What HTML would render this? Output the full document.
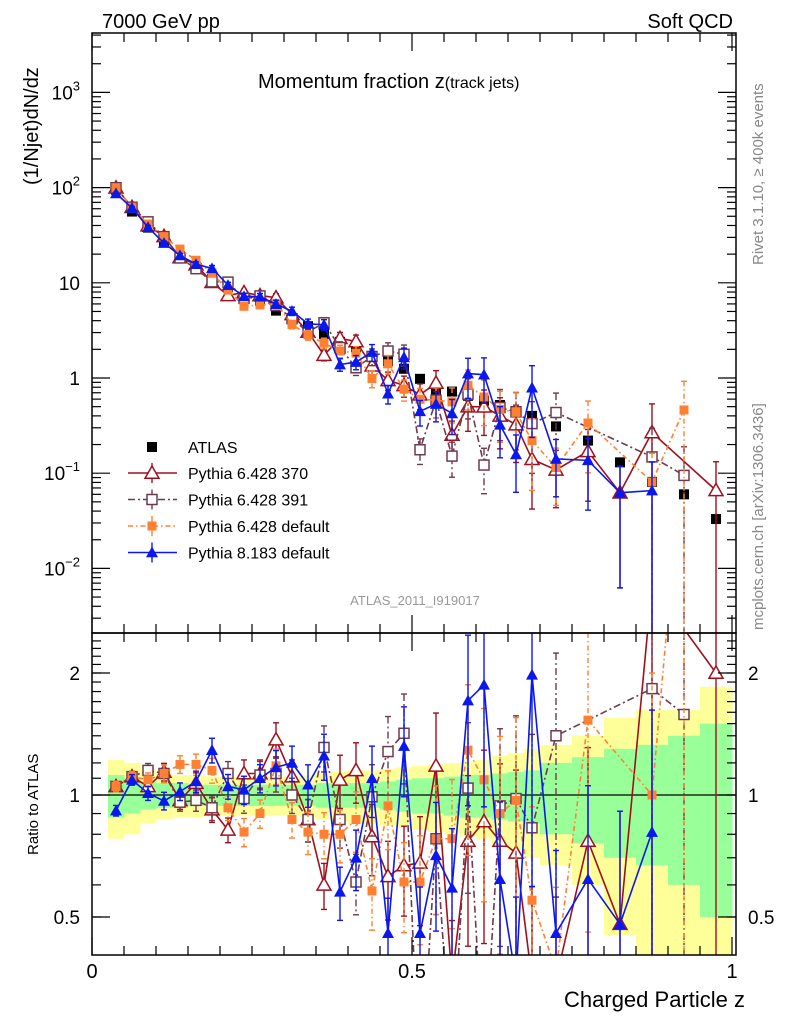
<!DOCTYPE html>
<html><head><meta charset="utf-8">
<style>
html,body{margin:0;padding:0;background:#fff;width:786px;height:1024px;overflow:hidden;}
svg{display:block;position:absolute;left:0;top:0;font-family:"Liberation Sans",Arial,sans-serif;}
</style></head>
<body>
<svg id="chart" width="786" height="1024" viewBox="0 0 786 1024" xmlns="http://www.w3.org/2000/svg">
  <defs>
    <clipPath id="clipTop"><rect x="92" y="33" width="644" height="600"/></clipPath>
    <clipPath id="clipBot"><rect x="92" y="633" width="644" height="322"/></clipPath>
  </defs>
  <g id="bandLayer" clip-path="url(#clipBot)"></g>
  <line x1="92" y1="795" x2="736" y2="795" stroke="#000" stroke-width="1.3"/>
  <g id="topLayer" clip-path="url(#clipTop)"></g>
  <g id="botLayer" clip-path="url(#clipBot)"></g>
  <g id="axesLayer"></g>
  <rect x="92" y="33" width="644" height="600" fill="none" stroke="#000" stroke-width="1.5"/>
  <rect x="92" y="633" width="644" height="322" fill="none" stroke="#000" stroke-width="1.5"/>

  <text x="102" y="28" font-size="20">7000 GeV pp</text>
  <text x="733" y="28" font-size="20" text-anchor="end">Soft QCD</text>
  <text x="258" y="88" font-size="20">Momentum fraction <tspan font-size="20">z</tspan><tspan font-size="16">(track jets)</tspan></text>
  <text transform="translate(38,185) rotate(-90)" font-size="20">(1/Njet)dN/dz</text>
  <text transform="translate(38,855) rotate(-90)" font-size="15">Ratio to ATLAS</text>
  <text x="745" y="1007" font-size="22" text-anchor="end">Charged Particle z</text>
  <text transform="translate(763,265) rotate(-90)" font-size="15" fill="#888">Rivet 3.1.10, ≥ 400k events</text>
  <text transform="translate(763,630) rotate(-90)" font-size="15" fill="#888">mcplots.cern.ch [arXiv:1306.3436]</text>
  <text x="415" y="605" font-size="13" fill="#999" text-anchor="middle">ATLAS_2011_I919017</text>
  <g id="legend"></g>
</svg>
<script>
// ---- data ----
const binLow  = [0.025,0.05,0.075,0.1,0.125,0.15,0.175,0.2,0.225,0.25,0.275,0.3,0.325,0.35,0.375,0.4,0.425,0.45,0.475,0.5,0.525,0.55,0.575,0.6,0.625,0.65,0.675,0.7,0.75,0.8,0.85,0.9,0.95];
const binHigh = [0.05,0.075,0.1,0.125,0.15,0.175,0.2,0.225,0.25,0.275,0.3,0.325,0.35,0.375,0.4,0.425,0.45,0.475,0.5,0.525,0.55,0.575,0.6,0.625,0.65,0.675,0.7,0.75,0.8,0.85,0.9,0.95,1.0];
const atlasValues = [95,56,38,27,19,14.5,11,9,7,6.5,5.1,4.2,3.5,2.9,2.4,2.1,1.7,1.5,1.25,0.98,0.75,0.72,0.65,0.58,0.52,0.45,0.40,0.31,0.22,0.13,0.081,0.06,0.033];
const atlasStatErr  = [0.12,0.10,0.08,0.07,0.07,0.06,0.06,0.06,0.06,0.06,0.06,0.06,0.06,0.07,0.07,0.07,0.07,0.08,0.09,0.10,0.10,0.11,0.12,0.12,0.13,0.14,0.15,0.20,0.24,0.30,0.33,0.40,0.50];
const atlasTotalErr = [0.22,0.20,0.15,0.13,0.12,0.12,0.11,0.11,0.11,0.11,0.11,0.11,0.12,0.13,0.14,0.15,0.15,0.16,0.17,0.18,0.19,0.20,0.21,0.22,0.25,0.27,0.30,0.33,0.40,0.55,0.62,0.62,0.85];
const ratio370 = [1.05,1.11,1.05,1.14,0.97,1.07,0.92,0.82,1.13,1.13,1.37,1.11,0.87,0.60,1.09,1.15,0.79,0.63,0.67,0.68,1.18,0.35,0.77,0.86,0.77,0.72,0.35,0.35,0.77,0.48,3.3,null,2.0];
const ratio391 = [1.05,1.11,1.15,1.13,0.96,0.97,0.93,1.13,0.98,1.12,1.13,1.00,0.87,1.31,0.87,0.61,0.99,1.28,1.42,0.18,0.78,0.21,1.04,0.21,0.94,0.98,0.83,1.40,null,null,1.83,1.58,null];
const ratioDef6 = [1.05,1.11,1.09,1.13,1.19,1.19,1.15,0.93,0.81,0.90,1.18,0.87,0.81,0.80,0.80,0.87,0.58,0.94,0.61,0.61,0.78,0.78,1.29,1.09,0.90,0.97,0.55,0.37,1.53,null,1.0,7.7,null];
const ratioPy8 = [0.915,1.09,1.01,0.967,1.02,1.08,1.29,1.05,1.03,1.10,1.17,1.20,1.06,1.25,0.577,0.70,1.10,0.456,1.32,0.456,0.71,0.59,1.71,1.87,0.62,0.35,1.98,0.456,0.62,0.48,0.81,null,null];
const mcRelErr = [0.03,0.03,0.04,0.05,0.05,0.06,0.07,0.07,0.08,0.08,0.10,0.10,0.12,0.13,0.15,0.17,0.20,0.22,0.25,0.30,0.35,0.40,0.45,0.50,0.55,0.60,0.70,0.60,0.70,0.90,1.0,1.0,1.0];
const topTickLabels = [["10","3"],["10","2"],["10",""],["1",""],["10","\u22121"],["10","\u22122"]];
const topTickValues = [1000,100,10,1,0.1,0.01];
const ratioTickValues = [2,1,0.5];
const ratioTickLabels = ["2","1","0.5"];
const xTickValues = [0,0.5,1];
const xTickLabels = ["0","0.5","1"];

// ---- axes ----
const NS="http://www.w3.org/2000/svg";
const X0=92, XS=640;
function xs(z){return X0+z*XS;}
function yTop(v){return 378-95.2*Math.log10(v);}
function yRat(r){return 795-122*Math.log2(r);}
function el(tag,attrs,parent){const e=document.createElementNS(NS,tag);for(const k in attrs)e.setAttribute(k,attrs[k]);parent.appendChild(e);return e;}

const bandLayer=document.getElementById('bandLayer');
const topLayer=document.getElementById('topLayer');
const botLayer=document.getElementById('botLayer');
const axesLayer=document.getElementById('axesLayer');
const legend=document.getElementById('legend');

for(let i=0;i<binLow.length;i++){
  const x1=xs(binLow[i]), x2=xs(binHigh[i]);
  const top=Math.max(633,yRat(1+atlasTotalErr[i])), bot=Math.min(955,yRat(Math.max(1-atlasTotalErr[i],0.01)));
  const yt=el('rect',{x:x1,y:top,width:Math.min(x2-x1+0.5,736-x1),height:bot-top,fill:'#ffff99'},bandLayer);
  
  
}
for(let i=0;i<binLow.length;i++){
  const x1=xs(binLow[i]), x2=xs(binHigh[i]);
  const top=Math.max(633,yRat(1+atlasStatErr[i])), bot=Math.min(955,yRat(1-atlasStatErr[i]));
  const ys=el('rect',{x:x1,y:top,width:Math.min(x2-x1+0.5,736-x1),height:bot-top,fill:'#99ff99'},bandLayer);
  
  
}

const zc=binLow.map((l,i)=>(l+binHigh[i])/2);

function marker(g,type,cx,cy,color){
  let m;
  if(type==='tri-open'){const s=7;m=el('polygon',{points:`${cx},${cy-s} ${cx-s},${cy+s*0.75} ${cx+s},${cy+s*0.75}`,fill:'#fff',stroke:color,'stroke-width':1.5},g);}
  else if(type==='tri-fill'){const s=6;m=el('polygon',{points:`${cx},${cy-s} ${cx-s},${cy+s*0.8} ${cx+s},${cy+s*0.8}`,fill:color},g);}
  else if(type==='sq-open'){m=el('rect',{x:cx-5,y:cy-5,width:10,height:10,fill:'#fff',stroke:color,'stroke-width':1.5},g);}
  else if(type==='sq-fill-small'){m=el('rect',{x:cx-4.5,y:cy-4.5,width:9,height:9,fill:color},g);}
  else {m=el('rect',{x:cx-5,y:cy-5,width:10,height:10,fill:color},g);}
  return m;
}

const series=[
  {name:'pythia-6428-370',label:'Pythia 6.428 370',ratio:ratio370,color:'#a0101c',dash:'',mk:'tri-open'},
  {name:'pythia-6428-391',label:'Pythia 6.428 391',ratio:ratio391,color:'#6e3a4e',dash:'7 3 2 3',mk:'sq-open'},
  {name:'pythia-6428-default',label:'Pythia 6.428 default',ratio:ratioDef6,color:'#ff8030',dash:'5 3 1.5 3',mk:'sq-fill-small'},
  {name:'pythia-8183-default',label:'Pythia 8.183 default',ratio:ratioPy8,color:'#0a18ee',dash:'',mk:'tri-fill'}
];

const atlasG=el('g',{},topLayer);


for(let i=0;i<zc.length;i++){
  const m=marker(atlasG,'sq-big',xs(zc[i]),yTop(atlasValues[i]),'#000');
  
  
}

function clampY(y,lo,hi){return Math.max(lo,Math.min(hi,y));}
// clip segment vertically to [ymin,ymax]
function clipSeg(x1,y1,x2,y2,ymin,ymax){
  let t0=0,t1=1;const dy=y2-y1;
  const checks=[[-dy,y1-ymin],[dy,ymax-y1]];
  for(const [p,q] of checks){
    if(p===0){if(q<0)return null;}
    else{const r=q/p;if(p<0){if(r>t1)return null;if(r>t0)t0=r;}else{if(r<t0)return null;if(r<t1)t1=r;}}
  }
  return [x1+(x2-x1)*t0,y1+dy*t0,x1+(x2-x1)*t1,y1+dy*t1];
}
function drawSeries(s,layer,yf,valf,ymin,ymax){
  const g=el('g',{},layer);
  
  
  const pts=[];
  for(let i=0;i<zc.length;i++){
    if(s.ratio[i]===null)continue;
    const v=valf(i);
    pts.push([xs(zc[i]),yf(v),i,v]);
  }
  pts.forEach(p=>{
    const i=p[2], v=p[3], e=mcRelErr[i];
    const upRaw=yf(v*(1+e)), loRaw=e>=0.99? ymax : yf(v*(1-e));
    const up=clampY(upRaw,ymin,ymax), lo=clampY(loRaw,ymin,ymax);
    if(up===lo)return;
    const eb=el('line',{x1:p[0],y1:up,x2:p[0],y2:lo,stroke:s.color,'stroke-width':1.4,'stroke-dasharray':s.dash},g);
    
    
    if(upRaw>ymin) el('line',{x1:p[0]-3,y1:up,x2:p[0]+3,y2:up,stroke:s.color,'stroke-width':1.4},g);
    if(e<0.99 && loRaw<ymax) el('line',{x1:p[0]-3,y1:lo,x2:p[0]+3,y2:lo,stroke:s.color,'stroke-width':1.4},g);
  });
  let d='';let last=null;
  for(let k=0;k+1<pts.length;k++){
    const c=clipSeg(pts[k][0],pts[k][1],pts[k+1][0],pts[k+1][1],ymin,ymax);
    if(!c){last=null;continue;}
    if(!last||Math.abs(last[0]-c[0])>0.01||Math.abs(last[1]-c[1])>0.01) d+=`M${c[0].toFixed(2)},${c[1].toFixed(2)}`;
    d+=`L${c[2].toFixed(2)},${c[3].toFixed(2)}`;
    last=[c[2],c[3]];
  }
  const line=el('path',{d:d,fill:'none',stroke:s.color,'stroke-width':1.6,'stroke-dasharray':s.dash},g);
  
  
  pts.forEach(p=>{
    if(p[1]<ymin-4||p[1]>ymax+4)return;
    const m=marker(g,s.mk,p[0],p[1],s.color);
    
    
  });
}
series.forEach(s=>{
  drawSeries(s,topLayer,yTop,i=>atlasValues[i]*s.ratio[i],33,633);
  drawSeries(s,botLayer,yRat,i=>s.ratio[i],633,955);
});

for(let d=-3;d<=3;d++){
  for(let k=1;k<10;k++){
    const v=k*Math.pow(10,d), y=yTop(v);
    if(y<33||y>633)continue;
    const len=k===1?18:9;
    el('line',{x1:92,y1:y,x2:92+len,y2:y,stroke:'#000','stroke-width':1.2},axesLayer);
    el('line',{x1:736,y1:y,x2:736-len,y2:y,stroke:'#000','stroke-width':1.2},axesLayer);
  }
}
topTickValues.forEach((v,i)=>{
  const t=el('text',{x:80,y:yTop(v)+7,'font-size':19,'text-anchor':'end'},axesLayer);
  
  
  const lab=topTickLabels[i];
  if(lab[1]===''){t.textContent=lab[0];}
  else{
    const a=document.createElementNS(NS,'tspan');a.textContent=lab[0];t.appendChild(a);
    const b=document.createElementNS(NS,'tspan');b.textContent=lab[1];b.setAttribute('font-size','13');b.setAttribute('dy','-9');t.appendChild(b);
  }
});
for(let r=0.4;r<=2.5;r+=0.1){
  const y=yRat(r); if(y<633||y>955)continue;
  el('line',{x1:92,y1:y,x2:101,y2:y,stroke:'#000','stroke-width':1.2},axesLayer);
  el('line',{x1:736,y1:y,x2:727,y2:y,stroke:'#000','stroke-width':1.2},axesLayer);
}
ratioTickValues.forEach((v,i)=>{
  const y=yRat(v);
  el('line',{x1:92,y1:y,x2:110,y2:y,stroke:'#000','stroke-width':1.2},axesLayer);
  el('line',{x1:736,y1:y,x2:718,y2:y,stroke:'#000','stroke-width':1.2},axesLayer);
  const t=el('text',{x:80,y:y+7,'font-size':19,'text-anchor':'end'},axesLayer);
  t.textContent=ratioTickLabels[i];
  
  
  const t2=el('text',{x:748,y:y+7,'font-size':19},axesLayer);
  t2.textContent=ratioTickLabels[i];
  
  
});
for(let z=0;z<=1.0001;z+=0.05){
  const x=xs(z), major=Math.abs(z*2-Math.round(z*2))<1e-6;
  const len=major?18:9;
  el('line',{x1:x,y1:955,x2:x,y2:955-len,stroke:'#000','stroke-width':1.2},axesLayer);
  el('line',{x1:x,y1:633,x2:x,y2:633-len,stroke:'#000','stroke-width':1.2},axesLayer);
  el('line',{x1:x,y1:633,x2:x,y2:633+len,stroke:'#000','stroke-width':1.2},axesLayer);
  el('line',{x1:x,y1:33,x2:x,y2:33+len,stroke:'#000','stroke-width':1.2},axesLayer);
}
xTickValues.forEach((v,i)=>{
  const t=el('text',{x:xs(v),y:978,'font-size':20,'text-anchor':'middle'},axesLayer);
  t.textContent=xTickLabels[i];
  
  
});

const lg0=el('g',{},legend);


marker(lg0,'sq-big',152,447,'#000');
const lt0=el('text',{x:188,y:453,'font-size':16},lg0); lt0.textContent='ATLAS';
series.forEach((s,i)=>{
  const y=473+i*26.5;
  const g=el('g',{},legend);
  
  
  el('line',{x1:128,y1:y,x2:177,y2:y,stroke:s.color,'stroke-width':1.6,'stroke-dasharray':s.dash},g);
  el('line',{x1:152,y1:y-10,x2:152,y2:y+10,stroke:s.color,'stroke-width':1.4},g);
  marker(g,s.mk,152,y,s.color);
  const t=el('text',{x:188,y:y+6,'font-size':16},g); t.textContent=s.label;
});
</script>
</body></html>
